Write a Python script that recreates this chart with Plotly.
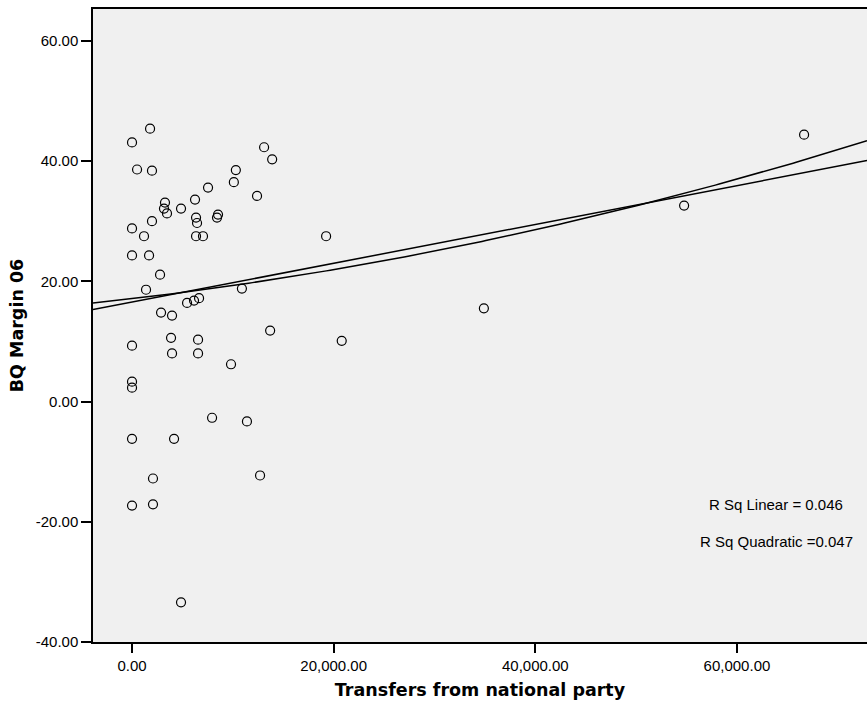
import numpy as np
import plotly.graph_objects as go

# Transfers from national party (x) and BQ Margin 06 (y)
transfers = [0, 1790, 500, 1980, 13100, 13900, 10300, 10100, 7540, 12400,
             3270, 6250, 3170, 3470, 4860, 6350, 6450, 8530, 8430, 1980,
             0, 1190, 6350, 7040, 19250, 0, 1690, 2780, 1390, 10900,
             5460, 6150, 6650, 2880, 3970, 13700, 34900, 20800, 3870, 6550,
             0, 3970, 6550, 9820, 0, 0, 7940, 11400, 0, 4170,
             2080, 12700, 0, 2080, 4860, 54760, 66660]
margin = [43.1, 45.4, 38.6, 38.4, 42.3, 40.3, 38.5, 36.5, 35.6, 34.2,
          33.1, 33.6, 32.1, 31.3, 32.1, 30.6, 29.7, 31.1, 30.6, 30.0,
          28.8, 27.5, 27.5, 27.5, 27.5, 24.3, 24.3, 21.1, 18.6, 18.8,
          16.4, 16.8, 17.2, 14.8, 14.3, 11.8, 15.5, 10.1, 10.6, 10.3,
          9.3, 8.0, 8.0, 6.2, 3.3, 2.3, -2.7, -3.3, -6.2, -6.2,
          -12.8, -12.3, -17.3, -17.1, -33.4, 32.6, 44.4]

x_ticks = [0, 20000, 40000, 60000]
x_tick_text = ["0.00", "20,000.00", "40,000.00", "60,000.00"]
y_ticks = [-40, -20, 0, 20, 40, 60]
y_tick_text = ["-40.00", "-20.00", "0.00", "20.00", "40.00", "60.00"]
x_range = [-3870, 72900]
y_range = [-40, 65.3]
r2_labels = ["R Sq Linear = 0.046", "R Sq Quadratic =0.047"]

x = np.array(transfers, dtype=float)
y = np.array(margin, dtype=float)
lin = np.polyfit(x, y, 1)
quad = np.polyfit(x, y, 2)
xs = np.linspace(x_range[0], x_range[1], 200)

fig = go.Figure()
fig.add_trace(go.Scatter(x=xs, y=np.polyval(lin, xs), mode="lines",
                         line=dict(color="black", width=1.5), showlegend=False))
fig.add_trace(go.Scatter(x=xs, y=np.polyval(quad, xs), mode="lines",
                         line=dict(color="black", width=1.5), showlegend=False))
fig.add_trace(go.Scatter(x=transfers, y=margin, mode="markers",
                         marker=dict(symbol="circle-open", size=9, color="black",
                                     line=dict(width=1.2, color="black")),
                         showlegend=False))

W, H = 867, 706
L, R, T, B = 93, 0, 9, 64


def to_paper(px, py):
    return (px - L) / (W - L - R), 1 - (py - T) / (H - T - B)


for label, py in zip(r2_labels, [504, 541]):
    ax, ay = to_paper(776, py)
    fig.add_annotation(x=ax, y=ay, xref="paper", yref="paper", text=label,
                       xanchor="center", yanchor="middle", showarrow=False,
                       font=dict(family="Liberation Sans", size=15, color="black"))

fig.update_layout(
    width=W, height=H,
    margin=dict(l=L, r=R, t=T, b=B),
    paper_bgcolor="white",
    plot_bgcolor="#f0f0f0",
    font=dict(family="Liberation Sans", size=15, color="black"),
    xaxis=dict(range=x_range, tickvals=x_ticks, ticktext=x_tick_text,
               showgrid=False, zeroline=False, showline=True, linecolor="black",
               linewidth=1.5, mirror=True, ticks="outside", ticklen=9, tickwidth=1.5,
               tickcolor="black", tickfont=dict(size=15),
               title=dict(text="<b>Transfers from national party</b>",
                          font=dict(family="DejaVu Sans", size=17.5), standoff=11)),
    yaxis=dict(range=y_range, tickvals=y_ticks, ticktext=y_tick_text,
               showgrid=False, zeroline=False, showline=True, linecolor="black",
               linewidth=1.5, ticks="outside", ticklen=10, tickwidth=1.5,
               tickcolor="black", tickfont=dict(size=15),
               title=dict(text="<b>BQ Margin 06</b>",
                          font=dict(family="DejaVu Sans", size=17.5), standoff=8)),
)

fig.write_html("out.html")
